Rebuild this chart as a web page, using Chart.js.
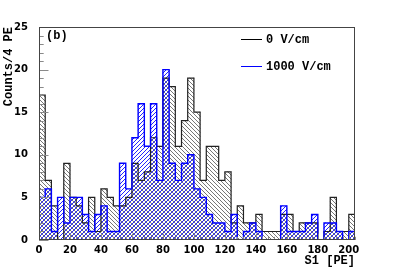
<!DOCTYPE html>
<html lang="en">
  <head>
    <meta charset="UTF-8" />
    <title>S1 spectrum</title>
    <script src="https://cdn.jsdelivr.net/npm/chart.js"></script>
    <style>
      body { margin: 0; background: #fff; }
    </style>
  </head>
  <body>
    <canvas id="s1Chart" width="395" height="267"></canvas>

    <script>
      // histogram data, 4 PE bins starting at 0
      const binWidth = 4;
      const counts0V = [
        17, 7, 4, 0, 9, 5, 4, 2, 5, 1,
        6, 5, 4, 4, 5, 9, 7, 8, 12, 11,
        19, 18, 11, 14, 19, 15, 7, 11, 11, 7,
        8, 2, 4, 2, 2, 3, 1, 1, 1, 3,
        3, 1, 2, 2, 2, 0, 1, 5, 1, 1,
        3,
      ];
      const counts1000V = [
        5, 6, 1, 5, 2, 5, 5, 3, 1, 3,
        4, 1, 1, 9, 6, 12, 16, 11, 16, 7,
        20, 9, 7, 9, 10, 6, 5, 3, 2, 2,
        1, 3, 0, 1, 2, 1, 0, 0, 0, 4,
        1, 1, 1, 2, 3, 0, 2, 2, 1, 0,
        1,
      ];
      const seriesLabels = ["0 V/cm", "1000 V/cm"];
      const xTickValues = [0, 20, 40, 60, 80, 100, 120, 140, 160, 180, 200];
      const yTickValues = [0, 5, 10, 15, 20, 25];
      const xTitle = "S1 [PE]";
      const yTitle = "Counts/4 PE";
      const panelTag = "(b)";

      const xMax = counts0V.length * binWidth;
      const yMax = yTickValues[yTickValues.length - 1];

      // hatch fills like the ROOT fill styles
      function hatch(color, forward) {
        const n = 4;
        const c = document.createElement("canvas");
        c.width = n;
        c.height = n;
        const g = c.getContext("2d");
        g.fillStyle = color;
        for (let i = 0; i < n; i++) {
          g.fillRect(forward ? n - 1 - i : i, i, 1, 1);
        }
        return g.createPattern(c, "repeat");
      }

      const barData = (arr) =>
        arr.map((v, i) => ({ x: i * binWidth + binWidth / 2, y: v }));
      const stepData = (arr) =>
        arr
          .map((v, i) => ({ x: i * binWidth, y: v }))
          .concat([{ x: arr.length * binWidth, y: arr[arr.length - 1] }]);

      const monoFont = "bold 12px 'Liberation Mono', monospace";

      const frameAndTicks = {
        id: "frameAndTicks",
        afterDatasetsDraw(chart) {
          const { ctx, chartArea: a, scales } = chart;
          const x = scales.x;
          const y = scales.y;
          ctx.save();
          ctx.strokeStyle = "#8a8a8a";
          ctx.lineWidth = 1;
          ctx.beginPath();
          for (let v = 0; v <= yMax; v += 1) {
            const py = Math.round(y.getPixelForValue(v)) + 0.5;
            const len = v % 5 === 0 ? 9.5 : 4.7;
            ctx.moveTo(a.left, py);
            ctx.lineTo(a.left + len, py);
          }
          for (let v = 0; v <= xMax; v += binWidth) {
            const px = Math.round(x.getPixelForValue(v)) + 0.5;
            const len = v % 20 === 0 ? 6.4 : 3.2;
            ctx.moveTo(px, a.bottom);
            ctx.lineTo(px, a.bottom - len);
          }
          ctx.stroke();

          ctx.strokeStyle = "#444";
          ctx.strokeRect(
            Math.round(a.left) + 0.5,
            Math.round(a.top) + 0.5,
            Math.round(a.right - a.left) - 1,
            Math.round(a.bottom - a.top) - 1
          );

          // panel tag and legend
          ctx.fillStyle = "#000";
          ctx.font = monoFont;
          ctx.textBaseline = "middle";
          ctx.textAlign = "left";
          ctx.fillText(panelTag, a.left + 7, a.top + 9);

          const colors = ["#000", "#0000ff"];
          seriesLabels.forEach((lab, i) => {
            const ly = a.top + 12.5 + i * 27;
            ctx.strokeStyle = colors[i];
            ctx.lineWidth = 1;
            ctx.beginPath();
            ctx.moveTo(241, ly);
            ctx.lineTo(262, ly);
            ctx.stroke();
            ctx.fillStyle = "#000";
            ctx.fillText(lab, 266, ly);
          });
          ctx.restore();
        },
      };

      new Chart(document.getElementById("s1Chart"), {
        type: "bar",
        data: {
          datasets: [
            {
              type: "line",
              label: seriesLabels[1],
              data: stepData(counts1000V),
              stepped: "before",
              borderColor: "#0000ff",
              borderWidth: 1.4,
              pointRadius: 0,
              fill: false,
              order: 1,
            },
            {
              type: "line",
              label: seriesLabels[0],
              data: stepData(counts0V),
              stepped: "before",
              borderColor: "#222",
              borderWidth: 1.2,
              pointRadius: 0,
              fill: false,
              order: 2,
            },
            {
              label: seriesLabels[1] + " fill",
              data: barData(counts1000V),
              backgroundColor: hatch("#2424ff", true),
              borderWidth: 0,
              grouped: false,
              barPercentage: 1,
              categoryPercentage: 1,
              order: 3,
            },
            {
              label: seriesLabels[0] + " fill",
              data: barData(counts0V),
              backgroundColor: hatch("#777", false),
              borderWidth: 0,
              grouped: false,
              barPercentage: 1,
              categoryPercentage: 1,
              order: 4,
            },
          ],
        },
        options: {
          responsive: false,
          animation: false,
          events: [],
          layout: { padding: { left: 0, top: 27, right: 40, bottom: 0 } },
          plugins: {
            legend: { display: false },
            tooltip: { enabled: false },
          },
          scales: {
            x: {
              type: "linear",
              min: 0,
              max: xMax,
              offset: false,
              grid: { display: false, offset: false },
              border: { display: false },
              afterBuildTicks: (s) => {
                s.ticks = xTickValues.map((v) => ({ value: v }));
              },
              afterFit: (s) => {
                s.height = 27;
              },
              ticks: {
                color: "#000",
                font: { family: "'DejaVu Sans', sans-serif", size: 10, weight: "bold" },
                padding: -4,
                maxRotation: 0,
              },
              title: {
                display: true,
                text: xTitle,
                align: "end",
                color: "#000",
                font: { family: "'Liberation Mono', monospace", size: 12, weight: "bold", lineHeight: 1 },
                padding: { top: 0, bottom: 0 },
              },
            },
            y: {
              min: 0,
              max: yMax,
              grid: { display: false },
              border: { display: false },
              afterBuildTicks: (s) => {
                s.ticks = yTickValues.map((v) => ({ value: v }));
              },
              afterFit: (s) => {
                s.width = 39;
              },
              ticks: {
                color: "#000",
                font: { family: "'DejaVu Sans', sans-serif", size: 10, weight: "bold" },
                padding: 3,
              },
              title: {
                display: true,
                text: yTitle,
                align: "end",
                color: "#000",
                font: { family: "'Liberation Mono', monospace", size: 12, weight: "bold", lineHeight: 1 },
                padding: { top: 3, bottom: 0 },
              },
            },
          },
        },
        plugins: [frameAndTicks],
      });
    </script>
  </body>
</html>
